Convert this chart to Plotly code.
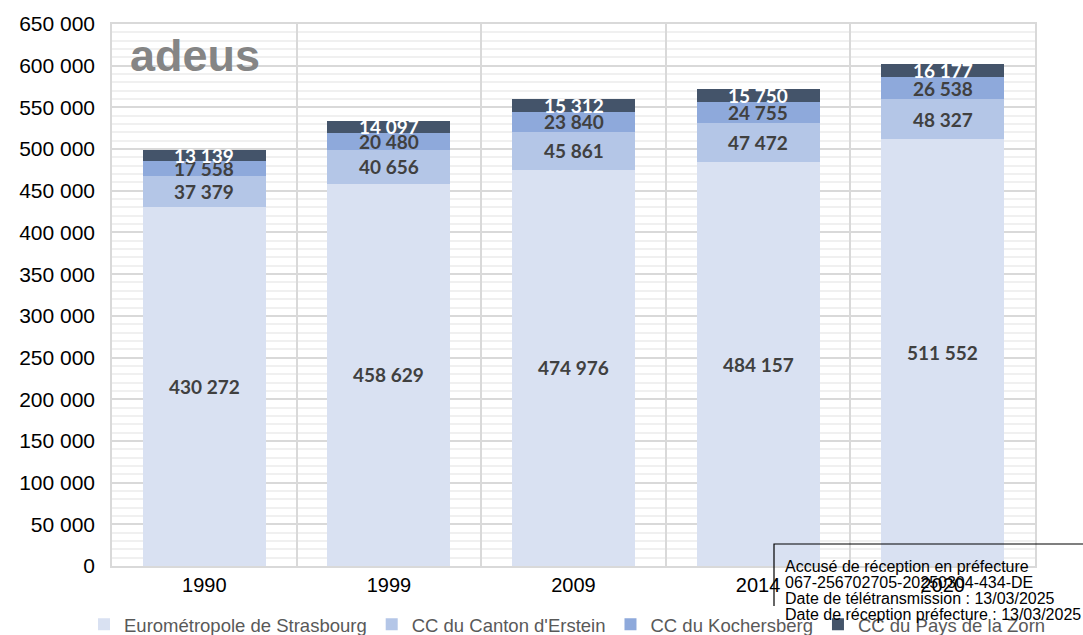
import plotly.graph_objects as go

years = ["1990", "1999", "2009", "2014", "2020"]
series_names = ["Eurométropole de Strasbourg", "CC du Canton d'Erstein",
                "CC du Kochersberg", "CC du Pays de la Zorn"]
eurometropole = [430272, 458629, 474976, 484157, 511552]
erstein = [37379, 40656, 45861, 47472, 48327]
kochersberg = [17558, 20480, 23840, 24755, 26538]
zorn = [13139, 14097, 15312, 15750, 16177]

colors = ["#D9E1F2", "#B4C6E7", "#8EA9DB", "#44546A"]
label_colors = ["#404040", "#404040", "#404040", "#FFFFFF"]

stamp_lines = ["Accusé de réception en préfecture",
               "067-256702705-20250304-434-DE",
               "Date de télétransmission : 13/03/2025",
               "Date de réception préfecture : 13/03/2025"]

def fmt(v):
    return f"{v:,}".replace(",", " ")

all_series = [eurometropole, erstein, kochersberg, zorn]

fig = go.Figure()
for name, vals, col in zip(series_names, all_series, colors):
    fig.add_trace(go.Bar(x=years, y=vals, name=name, marker_color=col,
                         marker_line_width=0))

annotations = []
base = [0] * len(years)
for vals, lc in zip(all_series, label_colors):
    for i, v in enumerate(vals):
        annotations.append(dict(x=i, y=base[i] + v / 2, xref="x", yref="y",
                                text=fmt(v), showarrow=False,
                                font=dict(family="Lato", size=19, color=lc, weight="bold")))
        base[i] += v

PH = 542.0  # plot height in px
PW = 923.0  # plot width in px

# logo
annotations.append(dict(x=(128 - 112) / PW, y=(566 - 56) / PH, xref="paper", yref="paper",
                        xanchor="left", yanchor="middle", text="adeus", showarrow=False,
                        font=dict(family="Liberation Sans", size=45, color="#858585",
                                  weight="bold")))
# stamp text
for k, line in enumerate(stamp_lines):
    annotations.append(dict(x=(783 - 112) / PW, y=(566 - 566 - 16 * k) / PH, xref="paper",
                            yref="paper", xanchor="left", yanchor="middle",
                            text=line, showarrow=False,
                            font=dict(family="Liberation Sans", size=16, color="#000000")))

fig.update_layout(
    width=1083, height=635,
    margin=dict(l=112, r=48, t=24, b=69, autoexpand=False),
    barmode="stack", bargap=0.333,
    plot_bgcolor="white", paper_bgcolor="white",
    separators=", ",
    font=dict(family="Liberation Sans", color="#000000"),
    legend=dict(orientation="h", x=(84 - 112) / PW, xanchor="left", y=-0.0735, yanchor="top",
                traceorder="normal", font=dict(size=18.5, color="#595959"),
                itemwidth=30),
    annotations=annotations,
    shapes=[dict(type="rect", xref="paper", yref="paper",
                 x0=(774 - 112) / PW, x1=1.2, y0=(566 - 544) / PH, y1=-0.3,
                 line=dict(color="#000000", width=1.2), fillcolor="rgba(0,0,0,0)")],
    showlegend=True,
)
fig.update_xaxes(type="category", range=[-0.5, 4.5], tickson="boundaries", showgrid=True,
                 gridcolor="#D9D9D9", gridwidth=1.5,
                 showline=True, linecolor="#D9D9D9", linewidth=1.5, mirror=True,
                 ticks="outside", ticklen=29, tickcolor="rgba(0,0,0,0)",
                 tickfont=dict(size=20, color="#000000"))
fig.update_yaxes(range=[0, 650000], dtick=50000, tickformat=",d",
                 showgrid=True, gridcolor="#D9D9D9", gridwidth=1.5,
                 minor=dict(dtick=10000, showgrid=True, gridcolor="#F0F0F0", gridwidth=1.5),
                 showline=True, linecolor="#D9D9D9", linewidth=1.5, mirror=True,
                 zeroline=False,
                 ticks="outside", ticklen=11, tickcolor="rgba(0,0,0,0)",
                 tickfont=dict(size=21, color="#000000"))

fig.write_html("out.html",
               config={"displayModeBar": False},
               post_script="document.body.style.margin='0';"
                           "document.body.style.overflow='hidden';")
